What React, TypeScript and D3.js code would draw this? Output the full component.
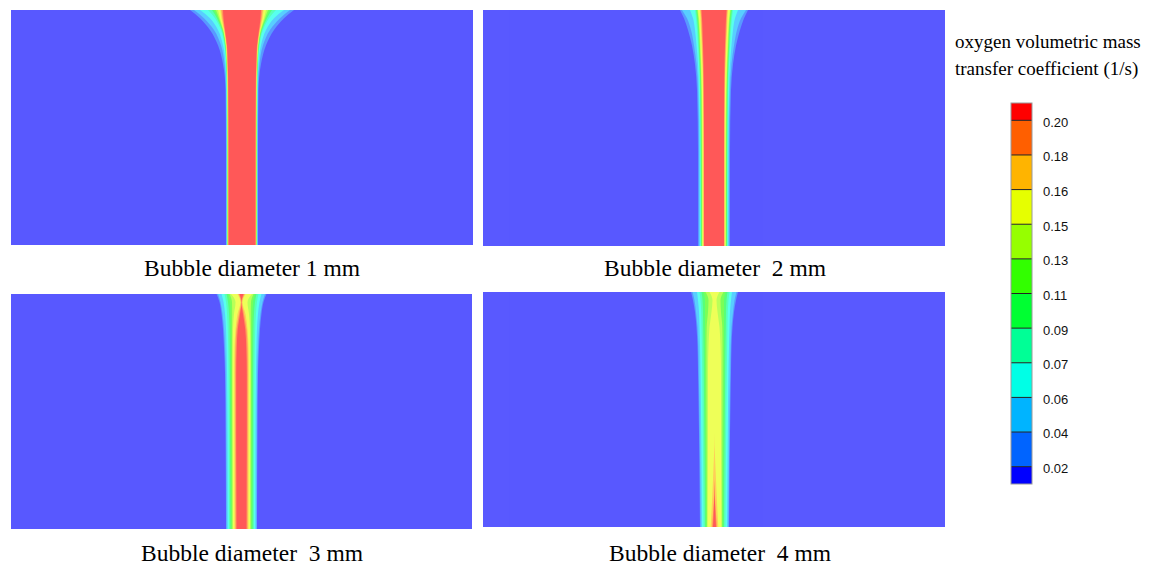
import { useMemo } from "react";
import * as d3 from "d3";

const WIDTH = 1155;
const HEIGHT = 566;

// contour colours, lowest level (blue) to highest (red)
const LEVEL_COLORS = [
  "#0000ff",
  "#0064ff",
  "#00b4ff",
  "#00ffe6",
  "#00ff96",
  "#00ff32",
  "#32ff00",
  "#96ff00",
  "#e6ff00",
  "#ffb400",
  "#ff5f00",
  "#ff0000",
];
const LEVEL_LABELS = ["0.02", "0.04", "0.06", "0.07", "0.09", "0.11", "0.13", "0.15", "0.16", "0.18", "0.20"];
const LEGEND_TITLE = ["oxygen volumetric mass", "transfer coefficient (1/s)"];

const CAPTIONS = [
  "Bubble diameter 1 mm",
  "Bubble diameter  2 mm",
  "Bubble diameter  3 mm",
  "Bubble diameter  4 mm",
];

// depth stations, fraction of the tank height from the free surface
const DEPTH = [0, 0.035, 0.085, 0.15, 0.23, 0.34, 0.6, 0.8, 1];

// half-width of each contour level (rows: level 1..11) at every depth station
const WIDTHS_1MM = [
  [52, 42, 32, 24, 19, 16.5, 16, 16, 16],
  [48, 38, 28, 21, 17.5, 16, 15.5, 15.5, 15.5],
  [42, 32, 24, 19, 16.5, 15.5, 15.2, 15.2, 15.2],
  [34, 27, 21, 17.5, 16, 15.2, 15, 15, 15],
  [30, 25, 20, 17, 15.7, 15, 14.8, 14.8, 14.8],
  [28, 24, 19.5, 16.6, 15.4, 14.8, 14.6, 14.6, 14.6],
  [26, 23, 19, 16.3, 15.2, 14.6, 14.4, 14.4, 14.4],
  [24, 22, 18.5, 16, 15, 14.4, 14.2, 14.2, 14.2],
  [21.5, 20.5, 18, 15.7, 14.8, 14.2, 14, 14, 14],
  [20.5, 19.5, 17.5, 15.4, 14.5, 14, 13.7, 13.7, 13.7],
  [19, 18.5, 17, 15, 14.2, 13.7, 13.4, 13.4, 13.4],
];
const WIDTHS_2MM = [
  [34, 30, 26, 22, 19, 17, 16, 16, 16],
  [32, 27, 23, 20, 17.5, 16, 15, 15, 15],
  [24, 21, 19, 17.5, 16, 15, 14.2, 14.1, 14],
  [19, 18, 17, 16, 15, 14.2, 13.6, 13.5, 13.5],
  [18, 17, 16, 15.2, 14.3, 13.6, 13.1, 13, 13],
  [17, 16.2, 15.3, 14.6, 13.8, 13.1, 12.6, 12.5, 12.5],
  [16.5, 15.6, 14.8, 14.1, 13.3, 12.6, 12.1, 12, 12],
  [16, 15, 14.2, 13.5, 12.8, 12.1, 11.6, 11.5, 11.5],
  [14, 13.5, 13, 12.3, 11.6, 11, 10.7, 10.7, 10.7],
  [13.3, 12.8, 12.3, 11.7, 11.1, 10.6, 10.3, 10.3, 10.3],
  [12.5, 12, 11.5, 11, 10.5, 10.2, 10, 10, 10],
];
const WIDTHS_3MM = [
  [25, 22, 20, 18.5, 17.5, 16.5, 16, 15.7, 15.5],
  [23.5, 21, 19, 17.5, 16.5, 15.8, 15.3, 15.1, 15],
  [20, 18, 16.5, 15.5, 15, 14.5, 14, 13.9, 13.8],
  [17, 15.5, 14.5, 13.8, 13.3, 13, 12.7, 12.6, 12.5],
  [15, 13.5, 12.5, 12, 11.8, 11.6, 11.5, 11.4, 11.3],
  [13.5, 11.5, 11, 10.8, 10.6, 10.5, 10.4, 10.3, 10.2],
  [12, 9.5, 9.3, 9.5, 9.5, 9.5, 9.4, 9.3, 9.3],
  [10.5, 6, 7.5, 8.5, 8.7, 8.8, 8.7, 8.6, 8.5],
  [4, 1, 4, 6, 7, 7.3, 7.2, 7.1, 7],
  [3, 0.5, 2.5, 5, 6, 6.3, 6.2, 6.1, 6],
  [2, 0, 1.5, 3.8, 4.8, 5.3, 5.3, 5.1, 5],
];
const WIDTHS_4MM = [
  [23.5, 21.5, 19.5, 18, 17, 16.5, 15.5, 15, 14.5],
  [22, 20, 18.5, 17, 16.2, 15.7, 14.8, 14.3, 13.8],
  [17.5, 16.5, 15.5, 15, 14.5, 14, 13.3, 12.9, 12.5],
  [15, 14, 13.3, 13, 12.7, 12.3, 11.7, 11.3, 11],
  [13, 12, 11.5, 11.3, 11, 10.7, 10.2, 9.8, 9.5],
  [11, 9.5, 9.5, 9.5, 9.5, 9.3, 9, 8.6, 8.3],
  [9, 6, 6.5, 7.8, 8, 8, 7.8, 7.6, 7.5],
  [5, 2, 3, 5, 6, 6.5, 6.5, 6.6, 6.8],
  [0, 0, 0, 0, 0, 0, 0, 1.5, 3.8],
  [0, 0, 0, 0, 0, 0, 0, 0, 2.5],
  [0, 0, 0, 0, 0, 0, 0, 0, 1.5],
];
const PLUME_CENTER = [0, 0, 0, 0.5];
const ALL_WIDTHS = [WIDTHS_1MM, WIDTHS_2MM, WIDTHS_3MM, WIDTHS_4MM];

// layout
const PANEL_BOXES = [
  { x: 11, y: 10, w: 462, h: 235, cx: 252, cy: 276 },
  { x: 483, y: 10, w: 462, h: 236, cx: 715, cy: 276 },
  { x: 11, y: 294, w: 461, h: 235, cx: 252, cy: 561 },
  { x: 483, y: 292, w: 462, h: 235, cx: 720, cy: 561 },
];
const LEGEND = { x: 1011, w: 21, top: 103, bottom: 484 };

type Box = (typeof PANEL_BOXES)[number];

const Panel = ({ box, widths, center, caption }: { box: Box; widths: number[][]; center: number; caption: string }) => {
  const xScale = d3.scaleLinear().domain([-231, 231]).range([box.x, box.x + box.w]);
  const yScale = d3.scaleLinear().domain([0, 1]).range([box.y, box.y + box.h]);

  const area = d3
    .area<[number, number]>()
    .y((d) => yScale(d[0]))
    .x0((d) => xScale(center - d[1]))
    .x1((d) => xScale(center + d[1]))
    .curve(d3.curveMonotoneY);

  return (
    <g>
      <g opacity={0.65}>
        <rect x={box.x} y={box.y} width={box.w} height={box.h} fill={LEVEL_COLORS[0]} />
        {widths.map((row, i) => (
          <path
            key={i}
            d={area(DEPTH.map((dp, j) => [dp, row[j]] as [number, number])) ?? ""}
            fill={LEVEL_COLORS[i + 1]}
          />
        ))}
      </g>
      <text
        x={box.cx}
        y={box.cy}
        textAnchor="middle"
        fontFamily="'Liberation Serif', 'Times New Roman', serif"
        fontSize={23.5}
        style={{ whiteSpace: "pre" }}
      >
        {caption}
      </text>
    </g>
  );
};

const Legend = () => {
  const ly = useMemo(
    () =>
      d3
        .scaleLinear()
        .domain([-0.5, LEVEL_LABELS.length - 0.5])
        .range([LEGEND.bottom, LEGEND.top]),
    []
  );

  return (
    <g>
      {LEGEND_TITLE.map((t, i) => (
        <text
          key={t}
          x={955}
          y={48 + i * 27}
          fontFamily="'Liberation Serif', 'Times New Roman', serif"
          fontSize={19}
        >
          {t}
        </text>
      ))}
      {LEVEL_COLORS.map((c, i) => {
        const lo = i === 0 ? ly(-0.5) : ly(i - 1);
        const hi = i === LEVEL_COLORS.length - 1 ? ly(LEVEL_LABELS.length - 0.5) : ly(i);
        return <rect key={c} x={LEGEND.x} y={hi} width={LEGEND.w} height={lo - hi} fill={c} />;
      })}
      {LEVEL_LABELS.map((lab, i) => (
        <g key={lab}>
          <line
            x1={LEGEND.x}
            x2={LEGEND.x + LEGEND.w}
            y1={ly(i)}
            y2={ly(i)}
            stroke="#222"
            strokeWidth={1}
          />
          <text
            x={1043}
            y={ly(i) + 3}
            dominantBaseline="middle"
            fontFamily="'Liberation Sans', Arial, sans-serif"
            fontSize={13}
            fill="#111"
          >
            {lab}
          </text>
        </g>
      ))}
      <rect
        x={LEGEND.x}
        y={LEGEND.top}
        width={LEGEND.w}
        height={LEGEND.bottom - LEGEND.top}
        fill="none"
        stroke="#9a9a9a"
        strokeWidth={1}
      />
    </g>
  );
};

export default function App() {
  return (
    <svg
      width={WIDTH}
      height={HEIGHT}
      viewBox={`0 0 ${WIDTH} ${HEIGHT}`}
      style={{ position: "absolute", left: 0, top: 0, background: "#fff" }}
    >
      <rect width={WIDTH} height={HEIGHT} fill="#fff" />
      {PANEL_BOXES.map((box, i) => (
        <Panel key={i} box={box} widths={ALL_WIDTHS[i]} center={PLUME_CENTER[i]} caption={CAPTIONS[i]} />
      ))}
      <Legend />
    </svg>
  );
}
